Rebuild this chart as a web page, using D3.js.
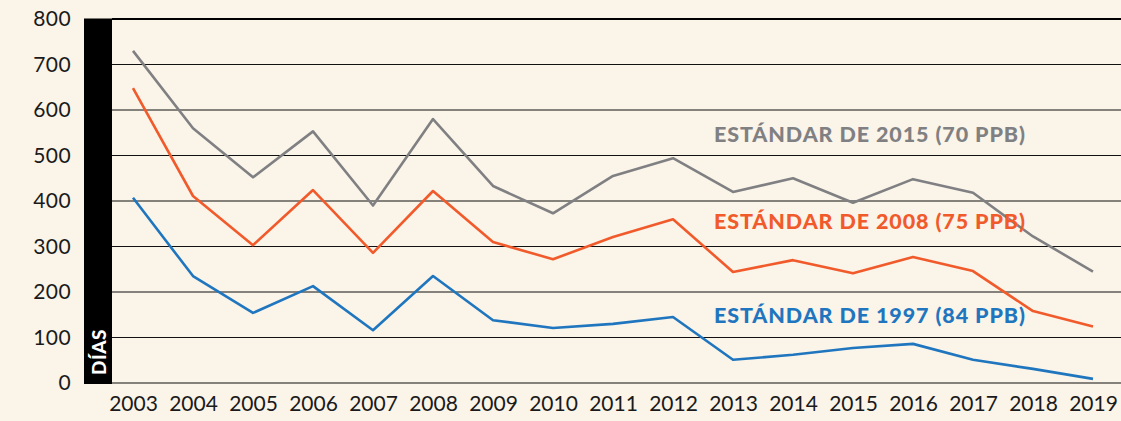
<!DOCTYPE html>
<html><head><meta charset="utf-8">
<script src="https://cdn.jsdelivr.net/npm/d3@7"></script>
<style>
html,body{margin:0;padding:0;background:#faf4e9;}
svg{display:block;}
</style></head>
<body>
<svg id="c" width="1121" height="421"></svg>
<script>
const years = [2003,2004,2005,2006,2007,2008,2009,2010,2011,2012,2013,2014,2015,2016,2017,2018,2019];
const std2015 = [730,560,452,553,390,580,433,373,455,494,420,450,396,448,418,322,245];
const std2008 = [648,411,303,424,286,422,310,272,321,360,244,270,241,277,246,158,124];
const std1997 = [407,235,154,213,116,235,138,121,130,145,51,62,77,86,51,31,9];
const yTicks = [0,100,200,300,400,500,600,700,800];
const seriesLabels = ["ESTÁNDAR DE 2015 (70 PPB)","ESTÁNDAR DE 2008 (75 PPB)","ESTÁNDAR DE 1997 (84 PPB)"];
const axisTitle = "DÍAS";

const svg = d3.select("#c");
const x = d3.scalePoint().domain(years).range([133,1093]);
const y = d3.scaleLinear().domain([0,800]).range([383,19]);
const gridX0 = 112, gridX1 = 1121;

// gridlines
svg.append("g").selectAll("line").data(yTicks).join("line")
  .attr("x1",gridX0).attr("x2",gridX1)
  .attr("y1",d=>y(d)).attr("y2",d=>y(d))
  .attr("stroke",d=>d===800?"#000":"#111")
  .attr("stroke-width",d=>d===800?2:1.1);

// black bar
svg.append("rect").attr("x",84).attr("y",y(800)-0.5).attr("width",gridX0-84).attr("height",y(0)-y(800)+1.5).attr("fill","#000");
svg.append("text").attr("transform",`translate(106,${y(0)-8}) rotate(-90)`)
  .attr("fill","#fff").attr("font-family","Lato").attr("font-weight","900").attr("font-size",19)
  .attr("letter-spacing",0.5)
  .text(axisTitle);

// y axis labels
const yAxis = d3.axisLeft(y).tickValues(yTicks).tickSize(0).tickPadding(0);
const ya = svg.append("g").attr("transform","translate(71,0)").call(yAxis);
ya.select(".domain").remove();
ya.selectAll("text").attr("font-family","Lato").attr("font-size",21).attr("fill","#1a1a1a").attr("letter-spacing",0.4);

// x axis labels
const xAxis = d3.axisBottom(x).tickSize(0).tickPadding(0).tickFormat(d3.format("d"));
const xa = svg.append("g").attr("transform","translate(0,396)").call(xAxis);
xa.select(".domain").remove();
xa.selectAll("text").attr("font-family","Lato").attr("font-size",21).attr("fill","#1a1a1a");

const series = [
  {vals:std2015,color:"#808083",lx:714,ly:142},
  {vals:std2008,color:"#f15a2b",lx:714,ly:229},
  {vals:std1997,color:"#1f76bf",lx:714,ly:323}
];
const line = d3.line().x((d,i)=>x(years[i])).y(d=>y(d));
series.forEach((s,i)=>{
  svg.append("path").datum(s.vals).attr("d",line).attr("fill","none")
    .attr("stroke",s.color).attr("stroke-width",2.6).attr("stroke-linejoin","round");
  svg.append("text").attr("x",s.lx).attr("y",s.ly).attr("fill",s.color)
    .attr("font-family","Lato").attr("font-weight","900").attr("font-size",21.5)
    .attr("letter-spacing",0.9)
    .text(seriesLabels[i]);
});
</script>
</body></html>
